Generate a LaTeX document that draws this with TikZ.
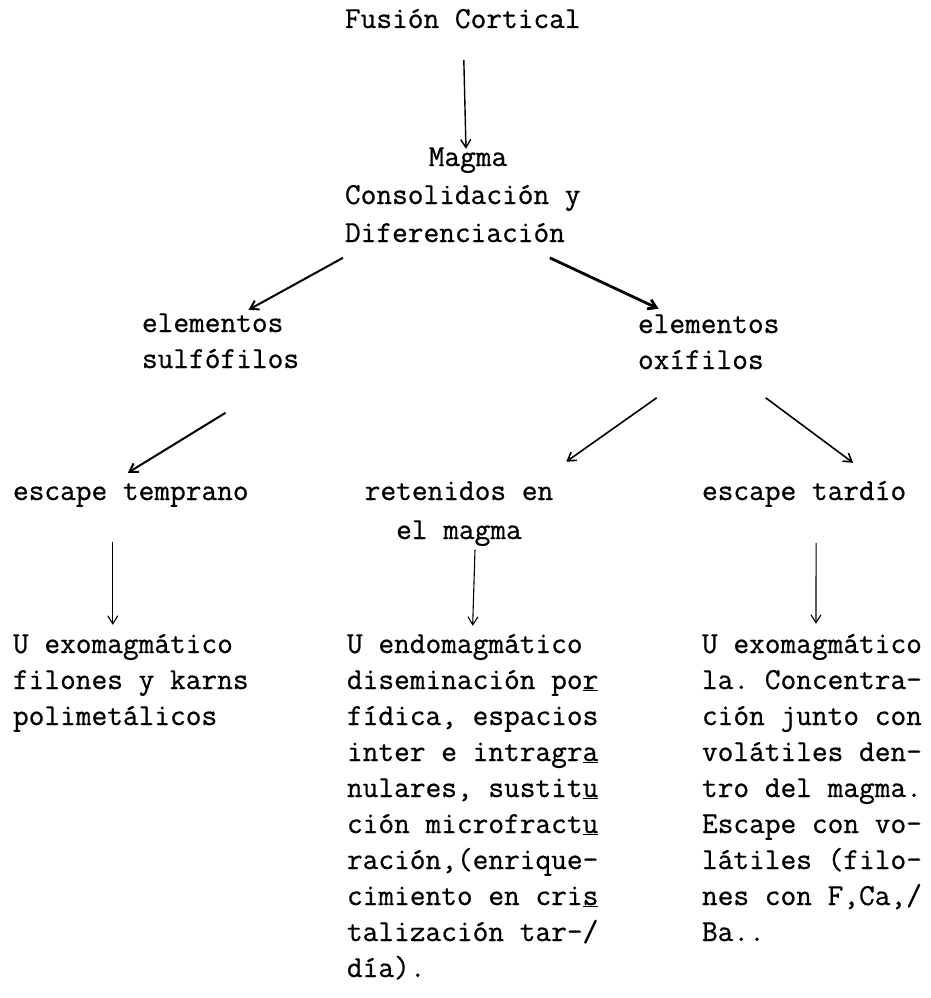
\documentclass[tikz,border=0pt]{standalone}
\usepackage{fontspec}
\setmonofont{Latin Modern Mono}[FakeBold=0.7]
\usetikzlibrary{arrows.meta,calc}
% stacked typewritten lines; first baseline is the node's base
\newcommand\typedleft[1]{\begin{tabular}[t]{@{}l@{}}#1\end{tabular}}
\newcommand\typedcenter[1]{\begin{tabular}[t]{@{}c@{}}#1\end{tabular}}
\begin{document}
\begin{tikzpicture}[x=1pt,y=-1pt,
  txt/.style={font=\ttfamily\fontsize{30.5}{36}\selectfont, inner sep=0pt, outer sep=0pt},
  lft/.style={txt, anchor=base west},
  ctr/.style={txt, anchor=base},
  arr/.style={-{Straight Barb[length=8pt,width=10pt]}, line width=1.1pt},
  thick arr/.style={arr, line width=2pt},
  heavy arr/.style={arr, line width=2.8pt}]
\useasboundingbox (0,0) rectangle (930,998);

% levels of the scheme
\node[lft] (fusion) at (345,28) {\typedleft{Fusión Cortical}};
\node[ctr] (magma) at (468,166) {\typedcenter{Magma}};
\node[lft, font=\ttfamily\fontsize{30.5}{38}\selectfont] (cd) at (345,204) {\typedleft{Consolidación y\\Diferenciación}};

\node[lft] (elS) at (142,332) {\typedleft{elementos\\sulfófilos}};
\node[lft] (elO) at (638,333) {\typedleft{elementos\\oxífilos}};

\node[lft] (escT) at (13,500) {\typedleft{escape temprano}};
\node[ctr, font=\ttfamily\fontsize{30.5}{39}\selectfont] (ret) at (459,500) {\typedcenter{retenidos en\\el magma}};
\node[lft] (escD) at (702,500) {\typedleft{escape tardío}};

\node[lft] (exoL) at (13,653) {\typedleft{U exomagmático\\filones y karns\\polimetálicos}};
\node[lft] (endo) at (347,653) {\typedleft{U endomagmático\\diseminación po\underline{r}\\fídica, espacios\\inter e intragr\underline{a}\\nulares, sustit\underline{u}\\ción microfract\underline{u}\\ración,(enrique-\\cimiento en cri\underline{s}\\talización tar-/\\día).}};
\node[lft] (exoR) at (702,653) {\typedleft{U exomagmático\\la. Concentra-\\ción junto con\\volátiles den-\\tro del magma.\\Escape con vo-\\látiles (filo-\\nes con F,Ca,/\\Ba..}};

% connectors
\draw[arr, line width=1.4pt] ($(fusion.south)+(1,21)$) -- ($(magma.north)+(-2,8)$);
\draw[thick arr] ($(cd.south west)+(-2,4.4)$) -- ($(elS.north)+(28,3)$);
\draw[heavy arr] ($(cd.south)+(87,4.4)$) -- ($(elO.north)+(-50,1)$);
\draw[thick arr] ($(elS.south)+(5,34)$) -- ($(escT.north)+(-3,-2)$);
\draw[arr, line width=1.6pt] ($(elO.south)+(-52,18)$) -- ($(ret.north east)+(13,-11)$);
\draw[arr, line width=1.6pt] ($(elO.south)+(57,18)$) -- ($(escD.north)+(49,-12)$);
\draw[arr] ($(escT.south)+(-18,31)$) -- ($(exoL.north)+(-18,-3)$);
\draw[arr] ($(ret.south)+(16,-1)$) -- ($(endo.north)+(0,-2)$);
\draw[arr] ($(escD.south)+(12,32)$) -- ($(exoR.north)+(4,-4)$);
\end{tikzpicture}
\end{document}
